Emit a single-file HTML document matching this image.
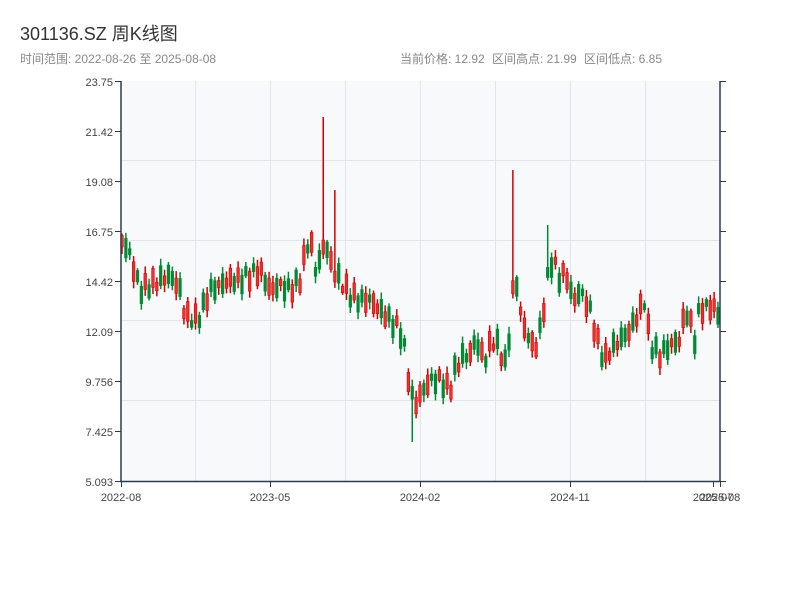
<!DOCTYPE html>
<html><head><meta charset="utf-8"><style>
body{margin:0;background:#fff;width:800px;height:600px;overflow:hidden;font-family:"Liberation Sans","Noto Sans CJK SC",sans-serif}
</style></head><body>
<svg id="s" width="800" height="600" xmlns="http://www.w3.org/2000/svg" font-family="Liberation Sans, Noto Sans CJK SC, sans-serif">
<text x="20" y="40" font-size="18" fill="#333">301136.SZ 周K线图</text>
<text x="20" y="63" font-size="12" fill="#888">时间范围: 2022-08-26 至 2025-08-08</text>
<text x="400" y="63" font-size="12" fill="#888">当前价格: 12.92</text>
<text x="492" y="63" font-size="12" fill="#888">区间高点: 21.99</text>
<text x="584" y="63" font-size="12" fill="#888">区间低点: 6.85</text>
<rect x="121" y="81" width="599" height="400" fill="#f7f9fb"/>
<g stroke="#e1e4ea" stroke-width="1">
<line x1="121" x2="720" y1="160.5" y2="160.5"/><line x1="121" x2="720" y1="240.5" y2="240.5"/>
<line x1="121" x2="720" y1="320.5" y2="320.5"/><line x1="121" x2="720" y1="400.5" y2="400.5"/>
<line y1="81" y2="481" x1="195.5" x2="195.5"/><line y1="81" y2="481" x1="270.5" x2="270.5"/>
<line y1="81" y2="481" x1="345.5" x2="345.5"/><line y1="81" y2="481" x1="420.5" x2="420.5"/>
<line y1="81" y2="481" x1="495.5" x2="495.5"/><line y1="81" y2="481" x1="570.5" x2="570.5"/>
<line y1="81" y2="481" x1="645.5" x2="645.5"/>
</g>
<g id="c"></g>
<g stroke="#2e3a4d" stroke-width="1.5">
<line x1="121" x2="121" y1="81" y2="482"/><line x1="720" x2="720" y1="81" y2="482"/>
<line x1="120" x2="721" y1="481.5" y2="481.5"/>
</g>
<g font-size="11" fill="#444" text-anchor="end">
<text x="113" y="86">23.75</text><text x="113" y="136">21.42</text><text x="113" y="186">19.08</text>
<text x="113" y="236">16.75</text><text x="113" y="286">14.42</text><text x="113" y="336">12.09</text>
<text x="113" y="386">9.756</text><text x="113" y="436">7.425</text><text x="113" y="486">5.093</text>
</g>
<g stroke="#2e3a4d" stroke-width="1">
<line x1="115" x2="121" y1="81.5" y2="81.5"/><line x1="115" x2="121" y1="131.5" y2="131.5"/><line x1="115" x2="121" y1="181.5" y2="181.5"/>
<line x1="115" x2="121" y1="231.5" y2="231.5"/><line x1="115" x2="121" y1="281.5" y2="281.5"/><line x1="115" x2="121" y1="331.5" y2="331.5"/>
<line x1="115" x2="121" y1="381.5" y2="381.5"/><line x1="115" x2="121" y1="431.5" y2="431.5"/><line x1="115" x2="121" y1="481.5" y2="481.5"/>
<line x1="720" x2="726" y1="81.5" y2="81.5"/><line x1="720" x2="726" y1="131.5" y2="131.5"/><line x1="720" x2="726" y1="181.5" y2="181.5"/>
<line x1="720" x2="726" y1="231.5" y2="231.5"/><line x1="720" x2="726" y1="281.5" y2="281.5"/><line x1="720" x2="726" y1="331.5" y2="331.5"/>
<line x1="720" x2="726" y1="381.5" y2="381.5"/><line x1="720" x2="726" y1="431.5" y2="431.5"/><line x1="720" x2="726" y1="481.5" y2="481.5"/>
<line x1="121.5" x2="121.5" y1="481" y2="487"/><line x1="270.5" x2="270.5" y1="481" y2="487"/><line x1="420.5" x2="420.5" y1="481" y2="487"/>
<line x1="570.5" x2="570.5" y1="481" y2="487"/><line x1="713.5" x2="713.5" y1="481" y2="487"/><line x1="720.5" x2="720.5" y1="481" y2="487"/>
</g>
<g font-size="11" fill="#444" text-anchor="middle">
<text x="121" y="501">2022-08</text><text x="270" y="501">2023-05</text><text x="420" y="501">2024-02</text>
<text x="570" y="501">2024-11</text><text x="713" y="501">2025-07</text><text x="720" y="501">2025-08</text>
</g>
</svg>
<script>
(function(){
var NS='http://www.w3.org/2000/svg',C=document.getElementById('c');
function el(n,a){var e=document.createElementNS(NS,n);for(var k in a)e.setAttribute(k,a[k]);C.appendChild(e);}
var kp=[[121,240],[125,245],[130,255],[140,290],[150,285],[160,280],[170,275],[180,290],[185,315],[195,320],[200,315],[210,290],[220,285],[230,280],[240,280],[250,275],[260,270],[270,290],[280,285],[290,290],[300,280],[305,255],[310,235],[315,270],[320,260],[325,240],[330,260],[333,270],[340,280],[350,295],[360,300],[370,300],[380,310],[390,320],[400,330],[405,350],[410,390],[415,405],[420,395],[430,380],[440,380],[450,390],[455,370],[460,360],[465,355],[470,355],[475,340],[480,350],[485,360],[490,345],[495,340],[500,350],[505,365],[510,330],[512,300],[515,270],[520,310],[525,330],[530,340],[535,350],[540,330],[545,300],[550,260],[555,265],[560,280],[565,270],[570,290],[575,300],[580,290],[585,300],[590,310],[595,330],[600,350],[605,360],[610,350],[620,340],[630,330],[640,310],[645,300],[650,345],[660,355],[670,345],[680,340],[685,310],[690,320],[695,340],[700,305],[705,310],[710,305],[715,310],[720,315]];
function f(x){for(var i=1;i<kp.length;i++){if(x<=kp[i][0]){var a=kp[i-1],b=kp[i];return a[1]+(b[1]-a[1])*(x-a[0])/(b[0]-a[0]);}}return 315;}
var i=0;
for(var x=122;x<=719;x+=3.87,i++){
var m=f(x)+6*Math.sin(i*2.9);
var hb=6+14*Math.abs(Math.sin(i*1.37+0.4));
var top=m-hb/2,bot=m+hb/2;
var hi=top-2-5*Math.abs(Math.sin(i*0.77)),lo=bot+2-0+5*Math.abs(Math.cos(i*1.13));
if(Math.abs(x-324)<2)hi=117;if(Math.abs(x-513)<2)hi=170;if(Math.abs(x-333)<2)hi=190;if(Math.abs(x-548)<2)hi=225;if(Math.abs(x-412)<2)lo=442;
var up=Math.sin(i*2.31+1)>0,col=up?'#d40000':'#008a34';
el('line',{x1:x,x2:x,y1:hi,y2:lo,stroke:col,'stroke-width':1.5});
el('rect',{x:x-1.3,y:top,width:2.6,height:bot-top,fill:up?'#f03030':col,stroke:col,'stroke-width':0.6});
}
})();
</script>
</body></html>
